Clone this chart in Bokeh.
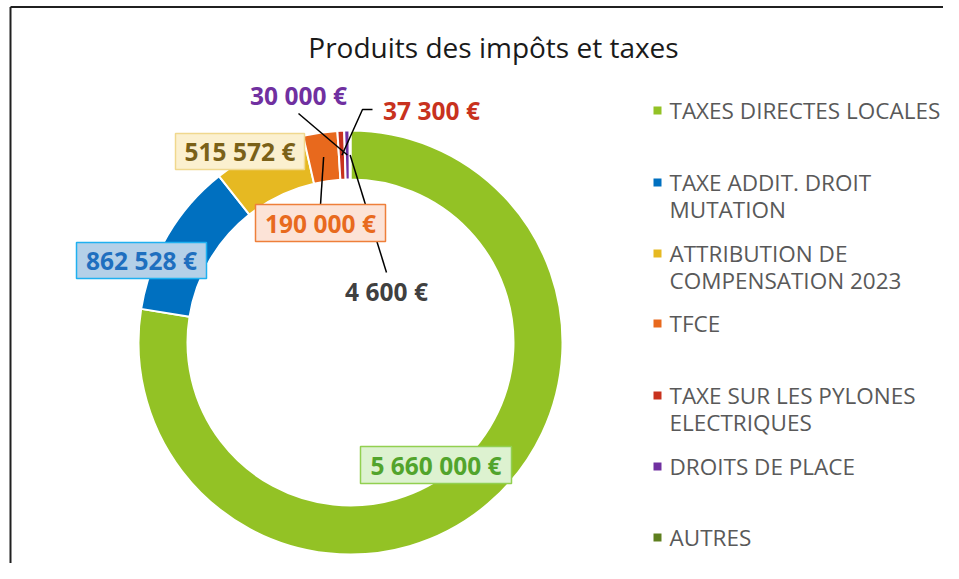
import math
from bokeh.plotting import figure
from bokeh.models import Range1d
from bokeh.core.properties import value
from bokeh.embed import file_html
from bokeh.resources import INLINE

# ---- data ----
title_text = "Produits des impôts et taxes"
categories = [
    "TAXES DIRECTES LOCALES",
    "TAXE ADDIT. DROIT\nMUTATION",
    "ATTRIBUTION DE\nCOMPENSATION 2023",
    "TFCE",
    "TAXE SUR LES PYLONES\nELECTRIQUES",
    "DROITS DE PLACE",
    "AUTRES",
]
amounts = [5660000, 862528, 515572, 190000, 37300, 30000, 4600]

# ---- styles ----
slice_colors = ["#93C225", "#0070C0", "#E6B922", "#E8691D", "#C8321E", "#7030A0", "#5E7F1E"]
label_text_colors = ["#52A42C", "#1F6FBF", "#7A6118", "#E86A1E", "#C8321E", "#7030A0", "#404040"]
box_fill = ["#DDF2D0", "#B4D0E8", "#FBF0CF", "#FCE3D7", None, None, None]
box_line = ["#92D050", "#1FB0F0", "#F0D88E", "#EE7F3A", None, None, None]

FONT = value("Open Sans")

# ---- layout (pixels, origin at the figure's top-left) ----
FIG_W, FIG_H = 943, 563


def sy(y):
    return FIG_H - y


cx, cy = 350, 342
r_out, r_in = 212, 163
r_mid = (r_out + r_in) / 2

# label centers and box sizes
label_pos = [(435.5, 464.5), (141, 260), (239.5, 151), (320, 222.5), (431, 110), (298, 95), (386, 291)]
box_size = [(151, 37), (130, 36), (129, 36), (130, 37), None, None, None]
# leader lines: points from slice to label
leaders = {
    3: [(320, 204)],
    4: [(362, 109), (372, 109)],
    5: [(298, 113)],
    6: [(386, 272)],
}

p = figure(width=FIG_W, height=FIG_H,
           x_range=Range1d(0, FIG_W), y_range=Range1d(0, FIG_H),
           output_backend="svg", toolbar_location=None,
           min_border=0, outline_line_color=None)
p.axis.visible = False
p.grid.visible = False
p.background_fill_color = "white"
p.border_fill_color = "white"

# frame lines (top & left)
p.segment(x0=[10, 10], y0=[sy(6.5), sy(6.5)], x1=[FIG_W, 10], y1=[sy(6.5), 0],
          line_color="#202020", line_width=2)

# ---- donut ----
total = sum(amounts)
starts, ends, mids = [], [], []
cum = 0.0
for a in amounts:
    t1 = cum / total * 360.0
    cum += a
    t2 = cum / total * 360.0
    starts.append(math.radians(90 - t2))
    ends.append(math.radians(90 - t1))
    mids.append(math.radians(90 - (t1 + t2) / 2))

p.annular_wedge(x=[cx] * len(amounts), y=[sy(cy)] * len(amounts),
                inner_radius=r_in, outer_radius=r_out,
                start_angle=starts, end_angle=ends, direction="anticlock",
                fill_color=slice_colors, line_color="white", line_width=2)

# ---- leader lines ----
for i, pts in leaders.items():
    x0 = cx + r_mid * math.cos(mids[i])
    y0 = sy(cy) + r_mid * math.sin(mids[i])
    xs = [x0] + [pt[0] for pt in pts]
    ys = [y0] + [sy(pt[1]) for pt in pts]
    p.line(xs, ys, line_color="black", line_width=1.5)

# ---- value labels ----
value_labels = [f"{a:,}".replace(",", " ") + " €" for a in amounts]
for i, txt in enumerate(value_labels):
    lx, ly = label_pos[i]
    if box_size[i] is not None:
        bw, bh = box_size[i]
        p.rect(x=[lx], y=[sy(ly)], width=bw, height=bh,
               fill_color=box_fill[i], line_color=box_line[i], line_width=1.5)
    p.text(x=[lx], y=[sy(ly)], text=[txt], text_align="center", text_baseline="middle",
           text_font=FONT, text_font_style="bold", text_font_size="24.5px",
           text_color=label_text_colors[i])

# ---- legend ----
leg_x_marker, leg_x_text = 657, 669
leg_rows = [110, 182, 253, 323, 395, 466, 537]
line_gap = 26.5
for i, name in enumerate(categories):
    yr = leg_rows[i]
    p.rect(x=[leg_x_marker], y=[sy(yr)], width=8, height=8,
           fill_color=slice_colors[i], line_color=None)
    for j, part in enumerate(name.split("\n")):
        p.text(x=[leg_x_text], y=[sy(yr + j * line_gap)], text=[part],
               text_align="left", text_baseline="middle",
               text_font=FONT, text_font_size="22.5px", text_color="#595959")

# ---- title ----
p.text(x=[493], y=[sy(46)], text=[title_text], text_align="center", text_baseline="middle",
       text_font=FONT, text_font_size="28px", text_color="#1A1A1A")

open("out.html", "w").write(file_html(p, INLINE))
